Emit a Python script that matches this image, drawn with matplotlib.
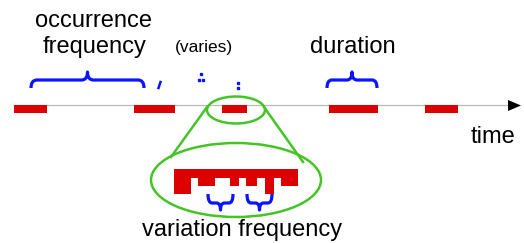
import matplotlib
matplotlib.use("Agg")
import matplotlib.pyplot as plt
from matplotlib.patches import Ellipse, PathPatch
from matplotlib.path import Path

# events on the time line (start, end) in time units
event_start = [14, 134, 222, 329, 425]
event_end = [47, 175, 247, 378, 458]

# zoomed-in event: step profile (edges, bottom of each step)
comb_edges = [174, 191, 198, 215, 230, 239, 246, 257, 265, 274, 281, 298]
comb_bottom = [194, 178, 186, 178, 186, 178, 186, 178, 194, 178, 186]
comb_top = 169

RED = "#dd0000"
BLUE = "#0a14ff"
GREEN = "#44c425"

plt.rcParams['font.family'] = ['Liberation Sans', 'DejaVu Sans']


def brace(ax, x0, x1, y, d, t, r, lw=2.3):
    # d > 0: ends hang down, tip points up (y axis inverted); d < 0 flips it
    xm = (x0 + x1) / 2
    tip = y - t if d > 0 else y + t
    verts = [(x0, y + d), (x0, y), (x0 + r, y),
             (xm - r, y), (xm, y), (xm, tip),
             (xm, y), (xm + r, y),
             (x1 - r, y), (x1, y), (x1, y + d)]
    codes = [Path.MOVETO, Path.CURVE3, Path.CURVE3,
             Path.LINETO, Path.CURVE3, Path.CURVE3,
             Path.CURVE3, Path.CURVE3,
             Path.LINETO, Path.CURVE3, Path.CURVE3]
    ax.add_patch(PathPatch(Path(verts, codes), fill=False, edgecolor=BLUE,
                           lw=lw, capstyle='butt', joinstyle='round'))


fig = plt.figure(figsize=(5.24, 2.43), dpi=100)
ax = fig.add_axes([0, 0, 1, 1])
ax.set_xlim(0, 524)
ax.set_ylim(243, 0)
ax.axis('off')

# time axis
line_y = 105
ax.plot([event_start[0], 510], [line_y, line_y], color="#bbbbbb", lw=0.9, zorder=1)
ax.fill([508, 521, 508], [100, 105.5, 111], color="black", lw=0)
ax.text(493, 143, "time", fontsize=17, ha='center', va='baseline')

widths = [e - s for s, e in zip(event_start, event_end)]
ax.bar(event_start, 8, width=widths, bottom=line_y, align='edge', color=RED, zorder=2)

# braces and labels above
brace(ax, 31, 144, 80, 8, 8, 6)
brace(ax, 327, 377, 80, 8, 8, 5)
ax.text(94, 27, "occurrence", fontsize=17, ha='center', va='baseline')
ax.text(95, 53, "frequency", fontsize=17, ha='center', va='baseline')
ax.text(353, 53, "duration", fontsize=17, ha='center', va='baseline')
ax.text(204, 52, "(varies)", fontsize=12.5, ha='center', va='baseline')

# remnants of the dotted brace for varying occurrence
ax.plot([158.5, 160.5], [88, 82], color=BLUE, lw=1.8)
ax.plot([199, 201, 203], [80, 74.5, 80], ls='none', marker='s', ms=2, color=BLUE)
ax.plot([238, 238], [83, 88], ls='none', marker='s', ms=2, color=BLUE)

# zoom ellipses
ax.add_patch(Ellipse((236, 110), 58, 27, fill=False, edgecolor=GREEN, lw=1.8))
ax.add_patch(Ellipse((236, 180), 170, 74, fill=False, edgecolor=GREEN, lw=1.8))
ax.plot([207, 171], [107, 157], color=GREEN, lw=1.8)
ax.plot([264, 303], [107, 162], color=GREEN, lw=1.8)

# zoomed event profile
lefts = comb_edges[:-1]
cw = [b - a for a, b in zip(comb_edges[:-1], comb_edges[1:])]
ch = [b - comb_top for b in comb_bottom]
ax.bar(lefts, ch, width=cw, bottom=comb_top, align='edge', color=RED, lw=0)

brace(ax, 208, 233, 203, -9, 7, 4)
brace(ax, 247, 272, 203, -9, 7, 4)
ax.text(242, 236, "variation frequency", fontsize=17, ha='center', va='baseline')

fig.savefig("out.png", dpi=100)
